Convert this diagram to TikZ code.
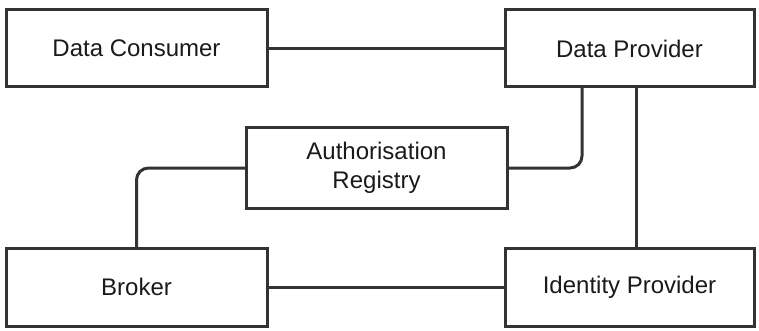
\documentclass[tikz,border=0pt]{standalone}
\usepackage{fontspec}
\setmainfont{Liberation Sans}
\definecolor{edge}{HTML}{333333}
\definecolor{ink}{HTML}{1A1A1A}
\begin{document}
\begin{tikzpicture}[x=1pt,y=-1pt,
  entity/.style={draw=edge, line width=3pt, fill=white, rectangle,
    inner sep=0pt, outer sep=0pt, text=ink, align=center,
    font=\fontsize{24}{28.5}\selectfont},
  link/.style={draw=edge, line width=3pt}]
\useasboundingbox (0,0) rectangle (759,331);

% participants
\node[entity, minimum width=261pt, minimum height=77pt] (dc)  at (136.5,48.5) {Data Consumer};
\node[entity, minimum width=249pt, minimum height=77pt] (dp)  at (629.5,48.5) {Data Provider};
\node[entity, minimum width=261pt, minimum height=80pt] (ar)  at (376.5,168)  {Authorisation\\Registry};
\node[entity, minimum width=261pt, minimum height=78pt] (br)  at (136.5,287)  {Broker};
\node[entity, minimum width=249pt, minimum height=78pt] (idp) at (629.5,287)  {Identity Provider};

% relations
\draw[link] (dc.east) -- (dp.west);
\draw[link] (br.east) -- (idp.west);
\draw[link, rounded corners=12pt] (ar.east) -| ([xshift=-47.5pt]dp.south);
\draw[link, rounded corners=12pt] (ar.west) -| (br.north);
\draw[link] ([xshift=6.5pt]dp.south) -- ([xshift=6.5pt]idp.north);
\end{tikzpicture}
\end{document}
